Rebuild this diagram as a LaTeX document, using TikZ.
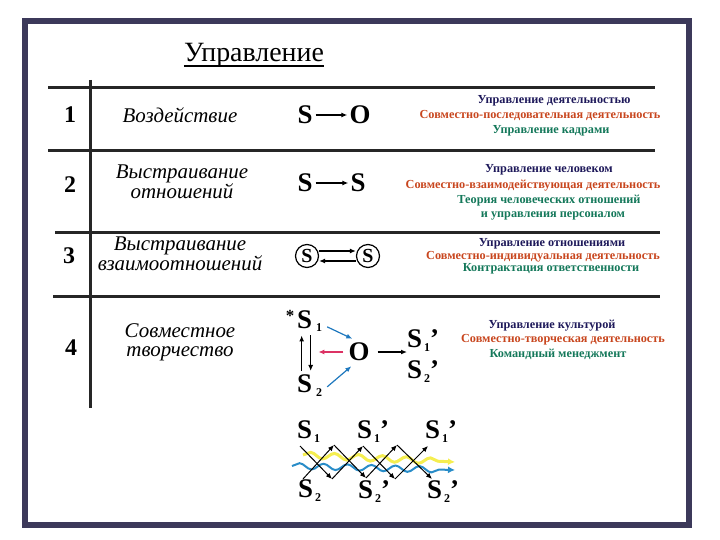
\documentclass[tikz,border=0pt]{standalone}
\usepackage{fontspec}
\setmainfont{Liberation Serif}
\usetikzlibrary{arrows.meta,decorations.pathmorphing}

\definecolor{framecol}{RGB}{60,57,90}
\definecolor{navycol}{RGB}{30,25,90}
\definecolor{redcol}{RGB}{200,70,30}
\definecolor{greencol}{RGB}{20,120,90}
\definecolor{bluecol}{RGB}{30,120,190}
\definecolor{pinkcol}{RGB}{220,50,100}
\definecolor{yellowcol}{RGB}{245,238,80}
\definecolor{wavecol}{RGB}{40,140,200}

\newcommand\Ssub[1]{S\raisebox{-4bp}{\fontsize{12}{12}\selectfont\,#1}}

\tikzset{
  hrule/.style={line width=3bp, black!85},
  num/.style={font=\fontsize{24}{24}\selectfont\bfseries},
  kind/.style={font=\fontsize{21}{19}\selectfont\itshape, align=center, inner sep=1pt},
  sym/.style={font=\fontsize{27}{27}\selectfont\bfseries, inner sep=0pt},
  ring/.style={circle, draw, line width=1.2bp, minimum size=23bp, inner sep=0pt,
    font=\fontsize{20}{20}\selectfont\bfseries},
  arr/.style={-{Latex[length=6bp,width=5bp]}, line width=1.2bp},
  note/.style={font=\fontsize{12.3}{12}\selectfont\bfseries, inner sep=0pt},
}

\begin{document}
\begin{tikzpicture}[x=1bp,y=-1bp]
\useasboundingbox (0,0) rectangle (720,540);
\draw[framecol, line width=6bp] (25,21) rectangle (689,525);

% title
\node[anchor=base, inner sep=0pt, font=\fontsize{28}{28}\selectfont] (title) at (254,62) {Управление};
\draw[line width=1.5bp] ([yshift=-4bp]title.base west) -- ([yshift=-4bp]title.base east);

% table lines
\draw[hrule] (48,88) -- (655,88);
\draw[hrule] (48,151) -- (655,151);
\draw[hrule] (55,233) -- (660,233);
\draw[hrule] (53,296) -- (660,296);
\draw[hrule] (90,80) -- (90,408);

% numbers
\node[num] (n1) at (70,115) {1};
\node[num] (n2) at (70,185) {2};
\node[num] (n3) at (69,256) {3};
\node[num] (n4) at (71,348) {4};

% kinds
\node[kind] (k1) at (180,115) {Воздействие};
\node[kind] (k2) at (182,182) {Выстраивание\\отношений};
\node[kind] (k3) at (180,254) {Выстраивание\\взаимоотношений};
\node[kind] (k4) at (180,342) {Совместное\\творчество};

% row 1
\node[sym] (a1) at (305,115) {S};
\node[sym] (a2) at (360,115) {O};
\draw[arr] ([xshift=3bp]a1.east) -- ([xshift=-2bp]a2.west);
% row 2
\node[sym] (b1) at (305,183) {S};
\node[sym] (b2) at (358,183) {S};
\draw[arr] ([xshift=3bp]b1.east) -- ([xshift=-2bp]b2.west);
% row 3
\node[ring] (c1) at (307,256) {S};
\node[ring] (c2) at (368,256) {S};
\draw[arr] ([yshift=5bp]c1.east) -- ([yshift=5bp]c2.west);
\draw[arr] ([yshift=-5bp]c2.west) -- ([yshift=-5bp]c1.east);

% row 4
\node[font=\fontsize{17}{17}\selectfont\bfseries, inner sep=0pt] (star) at (290,316) {*};
\node[sym, anchor=base west] (d1) at (297,328) {S};
\node[sym, anchor=base west] (d2) at (297,392) {S};
\node[font=\fontsize{12}{12}\selectfont\bfseries, inner sep=0pt] (d1s) at (319,328) {1};
\node[font=\fontsize{12}{12}\selectfont\bfseries, inner sep=0pt] (d2s) at (319,393) {2};
\node[sym] (d0) at (359,352) {O};
\node[sym, anchor=base west] (e1) at (407,347) {\Ssub{1}’};
\node[sym, anchor=base west] (e2) at (407,378) {\Ssub{2}’};
\draw[arr, line width=1.5bp] ([xshift=-3bp,yshift=3bp]d2.north) -- ([xshift=-3bp,yshift=-7bp]d1.south);
\draw[arr, line width=1.5bp] ([xshift=6bp,yshift=-7bp]d1.south) -- ([xshift=6bp,yshift=3bp]d2.north);
\draw[arr, bluecol] ([xshift=5bp,yshift=-3bp]d1s.north east) -- ([xshift=4bp,yshift=4bp]d0.north west);
\draw[arr, bluecol] ([xshift=5bp,yshift=2bp]d2s.north east) -- ([xshift=3bp,yshift=-5bp]d0.south west);
\draw[arr, pinkcol] ([xshift=-5bp]d0.west) -- ([xshift=-30bp]d0.west);
\draw[arr] ([xshift=8bp]d0.east) -- (e1.west |- d0.east);

% bottom chain
\node[sym, anchor=base west] (t1) at (297,438) {\Ssub{1}};
\node[sym, anchor=base west] (t2) at (357,438) {\Ssub{1}’};
\node[sym, anchor=base west] (t3) at (425,438) {\Ssub{1}’};
\node[sym, anchor=base west] (u1) at (298,497) {\Ssub{2}};
\node[sym, anchor=base west] (u2) at (358,498) {\Ssub{2}’};
\node[sym, anchor=base west] (u3) at (427,498) {\Ssub{2}’};

\coordinate (wy0) at (303,455);
\coordinate (wy1) at (455,462);
\coordinate (wb0) at (292,466);
\coordinate (wb1) at (455,470);
\draw[yellowcol, line width=3bp, decorate, decoration={snake, segment length=24bp, amplitude=3bp, post length=7bp}, -{Latex[length=7bp,width=7bp]}] (wy0) -- (wy1);
\draw[wavecol, line width=2bp, decorate, decoration={snake, segment length=24bp, amplitude=3bp, post length=7bp}, -{Latex[length=7bp,width=7bp]}] (wb0) -- (wb1);

\coordinate (a0) at (300,446);
\coordinate (a1) at (332,479);
\coordinate (a2) at (363,446);
\coordinate (a3) at (395,479);
\coordinate (a4) at (428,446);
\coordinate (b0) at (303,479);
\coordinate (b1) at (334,445);
\coordinate (b2) at (366,478);
\coordinate (b3) at (397,445);
\coordinate (b4) at (432,479);
\foreach \p/\q in {a0/a1,a1/a2,a2/a3,a3/a4,b0/b1,b1/b2,b2/b3,b3/b4}
  \draw[arr, line width=1bp] (\p) -- (\q);

% right column
\node[note, navycol] (r1a) at (554,101) {Управление деятельностью};
\node[note, redcol] (r1b) at (540,116) {Совместно-последовательная деятельность};
\node[note, greencol] (r1c) at (551,131) {Управление кадрами};
\node[note, navycol] (r2a) at (549,170) {Управление человеком};
\node[note, redcol] (r2b) at (533,186) {Совместно-взаимодействующая деятельность};
\node[note, greencol] (r2c) at (549,201) {Теория человеческих отношений};
\node[note, greencol] (r2d) at (553,216) {и управления персоналом};
\node[note, navycol] (r3a) at (552,244) {Управление отношениями};
\node[note, redcol] (r3b) at (543,257) {Совместно-индивидуальная деятельность};
\node[note, greencol] (r3c) at (551,269) {Контрактация ответственности};
\node[note, navycol] (r4a) at (552,326) {Управление культурой};
\node[note, redcol] (r4b) at (563,340) {Совместно-творческая деятельность};
\node[note, greencol] (r4c) at (558,354) {Командный менеджмент};
\end{tikzpicture}
\end{document}
